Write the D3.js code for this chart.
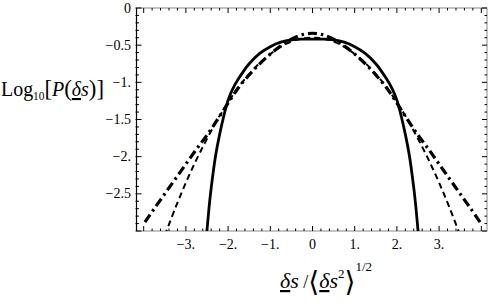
<!DOCTYPE html>
<html>
<head>
<meta charset="utf-8">
<script src="https://cdn.jsdelivr.net/npm/d3@7"></script>
<style>
  body { margin: 0; background: #fff; }
  svg { display: block; }
  text { font-family: "Liberation Serif", "DejaVu Serif", serif; fill: #000; }
</style>
</head>
<body>
<svg id="chart" width="491" height="304"></svg>
<script>
// solid curve (flat top, sharp cut-off)
var solidX = [-2.52, -2.45, -2.4, -2.3, -2.2, -2.1, -2.0, -1.9, -1.75, -1.5, -1.25, -1.0, -0.75, -0.5, -0.25, 0,
              0.25, 0.5, 0.75, 1.0, 1.25, 1.5, 1.75, 1.9, 2.0, 2.1, 2.2, 2.3, 2.4, 2.45, 2.52];
var solidY = [-3.12, -2.68, -2.42, -2.0, -1.7, -1.45, -1.24, -1.10, -0.95, -0.75, -0.61, -0.52, -0.46, -0.43, -0.42, -0.42,
              -0.42, -0.43, -0.46, -0.52, -0.61, -0.75, -0.95, -1.10, -1.24, -1.45, -1.7, -2.0, -2.42, -2.68, -3.12];

// dashed curve (gaussian-like)
var dashX = [-3.5, -3.25, -3.0, -2.75, -2.5, -2.25, -2.0, -1.75, -1.5, -1.25, -1.0, -0.75, -0.5, -0.25, 0,
             0.25, 0.5, 0.75, 1.0, 1.25, 1.5, 1.75, 2.0, 2.25, 2.5, 2.75, 3.0, 3.25, 3.5];
var dashY = [-3.06, -2.69, -2.35, -2.04, -1.76, -1.50, -1.27, -1.06, -0.89, -0.74, -0.62, -0.52, -0.45, -0.41, -0.40,
             -0.41, -0.45, -0.52, -0.62, -0.74, -0.89, -1.06, -1.27, -1.50, -1.76, -2.04, -2.35, -2.69, -3.06];

// dot-dashed curve (exponential tails)
var dotX = [-3.97, -3.75, -3.5, -3.25, -3.0, -2.75, -2.5, -2.25, -2.0, -1.75, -1.5, -1.25, -1.0, -0.75, -0.5, -0.25, 0,
            0.25, 0.5, 0.75, 1.0, 1.25, 1.5, 1.75, 2.0, 2.25, 2.5, 2.75, 3.0, 3.25, 3.5, 3.75, 3.97];
var dotY = [-2.88, -2.70, -2.50, -2.30, -2.10, -1.90, -1.71, -1.50, -1.28, -1.07, -0.90, -0.75, -0.62, -0.51, -0.42, -0.36, -0.34,
            -0.36, -0.42, -0.51, -0.62, -0.75, -0.90, -1.07, -1.28, -1.50, -1.71, -1.90, -2.10, -2.30, -2.50, -2.70, -2.88];

var xTicks = [-3, -2, -1, 0, 1, 2, 3];
var xTickLabels = ["\u22123.", "\u22122.", "\u22121.", "0", "1.", "2.", "3."];
var yTicks = [0, -0.5, -1, -1.5, -2, -2.5];
var yTickLabels = ["0", "\u22120.5", "\u22121.", "\u22121.5", "\u22122.", "\u22122.5"];

var svg = d3.select("#chart");
var pLeft = 136.5, pRight = 487, pTop = 8, pBottom = 231;

var x = d3.scaleLinear().domain([-4.17, 4.135]).range([pLeft, pRight]);
var y = d3.scaleLinear().domain([-3, 0]).range([pBottom, pTop]);

svg.append("clipPath").attr("id", "clip")
    .append("rect")
    .attr("x", pLeft).attr("y", pTop)
    .attr("width", pRight - pLeft).attr("height", pBottom - pTop);

// frame
svg.append("rect")
    .attr("x", pLeft).attr("y", pTop)
    .attr("width", pRight - pLeft).attr("height", pBottom - pTop)
    .attr("fill", "none").attr("stroke", "#888").attr("stroke-width", 1);
svg.append("line")
    .attr("x1", pLeft).attr("x2", pLeft).attr("y1", pTop).attr("y2", pBottom)
    .attr("stroke", "#000").attr("stroke-width", 1.2);

// ticks (inward, on all four sides)
var xMinor = d3.range(-4, 4.01, 0.2).map(function (d) { return Math.round(d * 10) / 10; });
var yMinor = d3.range(-3, 0.001, 0.1).map(function (d) { return Math.round(d * 10) / 10; });
var ticks = svg.append("g").attr("stroke", "#000").attr("stroke-width", 1);

xMinor.forEach(function (d) {
    var major = Math.abs(d - Math.round(d)) < 1e-6;
    var len = major ? 5 : 2.5;
    ticks.append("line").attr("x1", x(d)).attr("x2", x(d)).attr("y1", pBottom).attr("y2", pBottom - len);
    ticks.append("line").attr("x1", x(d)).attr("x2", x(d)).attr("y1", pTop).attr("y2", pTop + len);
});
yMinor.forEach(function (d) {
    var major = Math.abs(d * 2 - Math.round(d * 2)) < 1e-6;
    var len = major ? 5 : 2.5;
    ticks.append("line").attr("x1", pLeft - 1).attr("x2", pLeft + len).attr("y1", y(d)).attr("y2", y(d));
    ticks.append("line").attr("x1", pRight).attr("x2", pRight - len).attr("y1", y(d)).attr("y2", y(d));
});

// tick labels
svg.append("g").selectAll("text")
    .data(xTicks)
    .enter().append("text")
    .attr("x", function (d) { return x(d); })
    .attr("y", 249)
    .attr("text-anchor", "middle")
    .attr("font-size", 14)
    .text(function (d, i) { return xTickLabels[i]; });

svg.append("g").selectAll("text")
    .data(yTicks)
    .enter().append("text")
    .attr("x", 131)
    .attr("y", function (d) { return y(d) + 4.5; })
    .attr("text-anchor", "end")
    .attr("font-size", 14)
    .text(function (d, i) { return yTickLabels[i]; });

// y axis label: Log10[P(δs)]
var yl = svg.append("text").attr("x", 1).attr("y", 96).attr("font-size", 21)
    .attr("textLength", 103).attr("lengthAdjust", "spacingAndGlyphs");
yl.append("tspan").text("Log");
yl.append("tspan").attr("font-size", 12).attr("dy", 4).text("10");
yl.append("tspan").attr("dy", -4).attr("font-size", 24).text("[");
yl.append("tspan").attr("font-style", "italic").text("P");
yl.append("tspan").attr("font-size", 24).text("(");
yl.append("tspan").attr("font-style", "italic").attr("text-decoration", "underline").text("\u03b4");
yl.append("tspan").attr("font-style", "italic").text("s");
yl.append("tspan").attr("font-size", 24).text(")]");

// x axis label: δs / <δs^2>^(1/2)
var xl = svg.append("text").attr("x", 280).attr("y", 288).attr("font-size", 22);
xl.append("tspan").attr("font-style", "italic").attr("text-decoration", "underline").text("\u03b4");
xl.append("tspan").attr("font-style", "italic").text("s");
xl.append("tspan").attr("font-size", 18).text(" /");
xl.append("tspan").attr("font-size", 28).attr("dy", 3).text("\u27e8");
xl.append("tspan").attr("dy", -3).attr("font-style", "italic").attr("text-decoration", "underline").text("\u03b4");
xl.append("tspan").attr("font-style", "italic").text("s");
xl.append("tspan").attr("font-size", 13).attr("dy", -10).text("2");
xl.append("tspan").attr("font-size", 28).attr("dy", 13).text("\u27e9");
xl.append("tspan").attr("font-size", 13).attr("dy", -20).text("1/2");

// curves
var line = d3.line()
    .x(function (d) { return x(d[0]); })
    .y(function (d) { return y(d[1]); })
    .curve(d3.curveCatmullRom);

var curves = svg.append("g").attr("clip-path", "url(#clip)").attr("fill", "none").attr("stroke", "#000");

curves.append("path")
    .datum(d3.zip(dashX, dashY))
    .attr("d", line)
    .attr("stroke-width", 2)
    .attr("stroke-dasharray", "6,4");

curves.append("path")
    .datum(d3.zip(dotX, dotY))
    .attr("d", line)
    .attr("stroke-width", 3.2)
    .attr("stroke-dasharray", "9,4,2.5,4");

curves.append("path")
    .datum(d3.zip(solidX, solidY))
    .attr("d", line)
    .attr("stroke-width", 2.8);
</script>
</body>
</html>
